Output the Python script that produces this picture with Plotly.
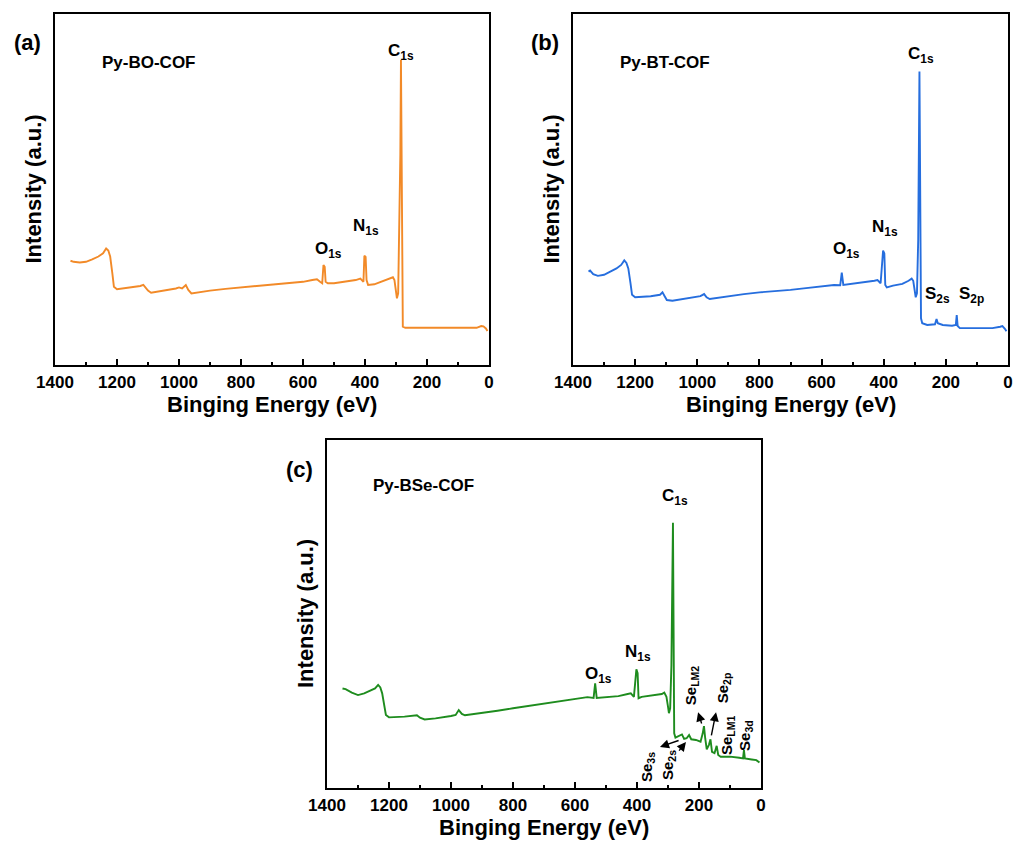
import plotly.graph_objects as go

# ---------------- data (binding energy in eV, intensity in arbitrary units) -------------
energy_a = [1350, 1340, 1320, 1300, 1280, 1260, 1245, 1235, 1228, 1222, 1215, 1210, 1200, 1180, 1150,
            1125, 1115, 1110, 1100, 1090, 1070, 1040, 1010, 1000, 990, 978, 970, 960, 940, 900, 850,
            800, 750, 700, 650, 600, 570, 555, 545, 538, 534, 530, 527, 520, 500, 460, 430, 415, 405,
            402, 398, 395, 390, 370, 340, 320, 310, 305, 300, 297, 293, 290, 286, 284, 282, 280, 278,
            270, 200, 100, 40, 25, 18, 10, 5]
intensity_a = [29.7, 29.4, 29.2, 29.4, 30.1, 30.9, 31.8, 33.2, 32.6, 30.9, 26.1, 22.3, 21.6, 21.8, 22.1,
               22.5, 22.8, 22.3, 21.2, 20.6, 20.9, 21.2, 21.8, 22.1, 21.8, 22.8, 21.4, 20.4, 20.7, 21.2, 21.7,
               22.1, 22.5, 23.0, 23.3, 23.7, 24.2, 24.4, 23.7, 23.3, 28.5, 28.0, 23.7, 23.3, 23.3, 23.7, 24.2, 24.6, 23.7,
               31.1, 30.8, 24.2, 22.8, 23.0, 23.9, 24.7, 25.0, 24.2, 21.4, 19.0, 20.4, 37.0, 60.0, 86.9, 50.0, 13.8, 10.9,
               10.6, 10.6, 10.5, 10.6, 11.1, 11.0, 10.4, 9.7]

energy_b = [1350, 1345, 1335, 1320, 1300, 1280, 1260, 1245, 1235, 1228, 1222, 1215, 1210, 1200, 1180,
            1150, 1120, 1112, 1105, 1098, 1080, 1040, 1000, 990, 978, 970, 960, 900, 850, 800, 750, 700,
            650, 600, 560, 540, 535, 530, 500, 460, 430, 420, 410, 402, 398, 395, 390, 370, 340, 320, 310,
            305, 300, 297, 293, 289, 285, 283, 280, 276, 260, 235, 230, 226, 210, 180, 168, 165, 162, 155,
            100, 50, 25, 18, 10, 5]
intensity_b = [26.6, 26.9, 25.9, 25.4, 25.7, 26.6, 27.5, 28.5, 29.8, 29.1, 27.5, 23.3, 20.0, 19.3, 19.4,
               19.6, 20.0, 20.7, 19.6, 18.5, 18.3, 18.8, 19.4, 19.6, 20.2, 19.3, 18.8, 19.6, 20.2, 20.7, 21.0, 21.4,
               21.9, 22.3, 22.8, 22.7, 26.3, 22.8, 23.1, 23.5, 24.0, 24.2, 23.3, 32.6, 31.8, 22.8, 22.1, 22.6, 23.1, 24.0, 24.6,
               24.0, 21.5, 19.3, 20.4, 35.6, 83.6, 35.6, 13.3, 11.9, 11.4, 11.6, 13.1, 11.9, 11.4, 11.2, 11.4, 14.2, 11.1, 10.5,
               10.5, 10.5, 10.9, 11.1, 10.3, 9.6]

energy_c = [1350, 1340, 1320, 1300, 1280, 1260, 1245, 1235, 1228, 1222, 1215, 1210, 1200, 1150, 1110,
            1100, 1085, 1050, 1000, 985, 975, 965, 955, 900, 850, 800, 750, 700, 650, 600, 560, 540, 535,
            530, 500, 460, 430, 420, 410, 402, 398, 395, 385, 370, 340, 320, 312, 305, 300, 297, 293, 289,
            284, 282, 280, 276, 265, 255, 248, 240, 232, 225, 210, 195, 188, 184, 180, 175, 168, 163, 158,
            150, 143, 138, 130, 100, 70, 58, 55, 52, 30, 15, 5]
intensity_c = [28.6, 28.4, 27.4, 26.7, 27.2, 28.0, 28.6, 29.6, 28.9, 27.2, 23.4, 21.0, 20.3, 20.5, 20.9,
               20.2, 19.7, 20.0, 20.7, 21.0, 22.4, 21.3, 20.9, 21.5, 22.2, 22.9, 23.6, 24.3, 24.9, 25.5, 26.1, 25.9, 30.1,
               25.9, 26.2, 26.4, 27.0, 27.2, 26.2, 34.1, 33.0, 25.8, 26.2, 26.4, 26.7, 27.0, 27.4, 26.2, 23.4, 21.5, 22.9, 35.3,
               76.2, 34.9, 15.7, 14.5, 14.9, 15.4, 14.1, 14.3, 15.2, 14.0, 13.8, 13.3, 15.7, 17.8, 14.3, 11.1, 12.4, 14.0, 10.4,
               10.0, 12.1, 9.5, 9.0, 9.0, 8.7, 8.5, 10.9, 8.5, 8.2, 8.0, 7.3]

sample_names = ["Py-BO-COF", "Py-BT-COF", "Py-BSe-COF"]
panel_tags = ["(a)", "(b)", "(c)"]
line_colors = ["rgb(242,138,40)", "rgb(38,110,222)", "rgb(30,140,30)"]
tick_values = [1400, 1200, 1000, 800, 600, 400, 200, 0]
tick_labels = ["1400", "1200", "1000", "800", "600", "400", "200", "0"]

# peak labels per panel: (text, energy, intensity)
peaks_a = [("C<sub>1s</sub>", 284, 89.2), ("O<sub>1s</sub>", 519, 32.8), ("N<sub>1s</sub>", 397, 39.3)]
peaks_b = [("C<sub>1s</sub>", 281, 88.3), ("O<sub>1s</sub>", 519, 32.8), ("N<sub>1s</sub>", 397, 39.0),
           ("S<sub>2s</sub>", 226, 19.9), ("S<sub>2p</sub>", 119, 19.9)]
peaks_c = [("C<sub>1s</sub>", 277, 83.6), ("O<sub>1s</sub>", 523, 32.5), ("N<sub>1s</sub>", 397, 38.8)]
# Se labels (rotated): (text, energy, intensity)
se_labels = [("Se<sub>3s</sub>", 368, 6.0), ("Se<sub>2s</sub>", 300, 6.6), ("Se<sub>LM2</sub>", 222, 29.6),
             ("Se<sub>2p</sub>", 122, 28.7), ("Se<sub>LM1</sub>", 110, 15.2), ("Se<sub>3d</sub>", 52, 15.2)]
# Se arrows: (head energy, head intensity, tail energy, tail intensity)
se_arrows = [(326, 11.8, 261, 13.8), (242, 13.2, 268, 10.3), (203, 21.8, 190, 18.1), (145, 21.8, 161, 14.7)]

W, H = 1014, 841
FONT = "Liberation Sans, Arial, sans-serif"

# panel boxes in pixels: left, right, top, bottom
boxes = [(55, 489, 14, 365), (573, 1008, 14, 365), (327, 761, 440, 788)]


def txt_ann(**kw):
    d = dict(showarrow=False, xanchor="center", yanchor="middle")
    d.update(kw)
    return d


fig = go.Figure()
series = [(energy_a, intensity_a), (energy_b, intensity_b), (energy_c, intensity_c)]
annotations = []
for i, ((ex, iy), box) in enumerate(zip(series, boxes)):
    n = "" if i == 0 else str(i + 1)
    xa, ya = "x" + n, "y" + n
    fig.add_trace(go.Scatter(x=ex, y=iy, mode="lines", xaxis=xa, yaxis=ya,
                             line=dict(color=line_colors[i], width=1.9), showlegend=False))
    l, r, t, b = box
    fig.update_layout(**{
        "xaxis" + n: dict(domain=[l / W, r / W], anchor=ya, range=[1400, 0], showline=True, linewidth=2,
                          linecolor="black", mirror=True, ticks="inside", ticklen=6, tickwidth=2,
                          tickcolor="black", tickvals=tick_values, ticktext=tick_labels,
                          ticklabelstandoff=1, automargin=False,
                          minor=dict(ticks="inside", dtick=100, ticklen=3, tickwidth=2, tickcolor="black"),
                          tickfont=dict(family=FONT, size=17, color="black", weight="bold"),
                          showgrid=False, zeroline=False),
        "yaxis" + n: dict(domain=[1 - b / H, 1 - t / H], anchor=xa, range=[0, 100], showline=True,
                          linewidth=2, linecolor="black", mirror=True, ticks="", showticklabels=False,
                          automargin=False, showgrid=False, zeroline=False),
    })
    # axis titles
    annotations.append(txt_ann(xref="paper", yref="paper", x=(l + r) / 2 / W, y=1 - (b + 39) / H,
                               text="Binging Energy (eV)",
                               font=dict(family=FONT, size=22, color="black", weight="bold")))
    annotations.append(txt_ann(xref="paper", yref="paper", x=(l - 22) / W, y=1 - (t + b) / 2 / H,
                               text="Intensity (a.u.)", textangle=-90,
                               font=dict(family=FONT, size=22, color="black", weight="bold")))
    # panel tag
    annotations.append(txt_ann(xref="paper", yref="paper", x=(l - 28) / W, y=1 - (t + 29) / H,
                               text=panel_tags[i],
                               font=dict(family=FONT, size=22, color="black", weight="bold")))
    # sample name
    annotations.append(txt_ann(xref=xa, yref=ya, x=[1097, 1103, 1090][i], y=[86.3, 86.3, 87.0][i],
                               text=sample_names[i],
                               font=dict(family=FONT, size=17, color="black", weight="bold")))

for i, plist in enumerate([peaks_a, peaks_b, peaks_c]):
    n = "" if i == 0 else str(i + 1)
    for txt, e, v in plist:
        annotations.append(txt_ann(xref="x" + n, yref="y" + n, x=e, y=v, text=txt,
                                   font=dict(family=FONT, size=17, color="black", weight="bold")))

for txt, e, v in se_labels:
    annotations.append(txt_ann(xref="x3", yref="y3", x=e, y=v, text=txt, textangle=-90,
                               font=dict(family=FONT, size=15, color="black", weight="bold")))
for hx, hy, tx, ty in se_arrows:
    annotations.append(dict(xref="x3", yref="y3", x=hx, y=hy, ax=tx, ay=ty, axref="x3", ayref="y3",
                            text="", showarrow=True, arrowhead=2, arrowsize=1.3, arrowwidth=1.4,
                            arrowcolor="black", standoff=0, startstandoff=0))

fig.update_layout(width=W, height=H, margin=dict(l=0, r=0, t=0, b=0, pad=0, autoexpand=False),
                  paper_bgcolor="white", plot_bgcolor="white", annotations=annotations, showlegend=False)

fig.write_html("out.html")
